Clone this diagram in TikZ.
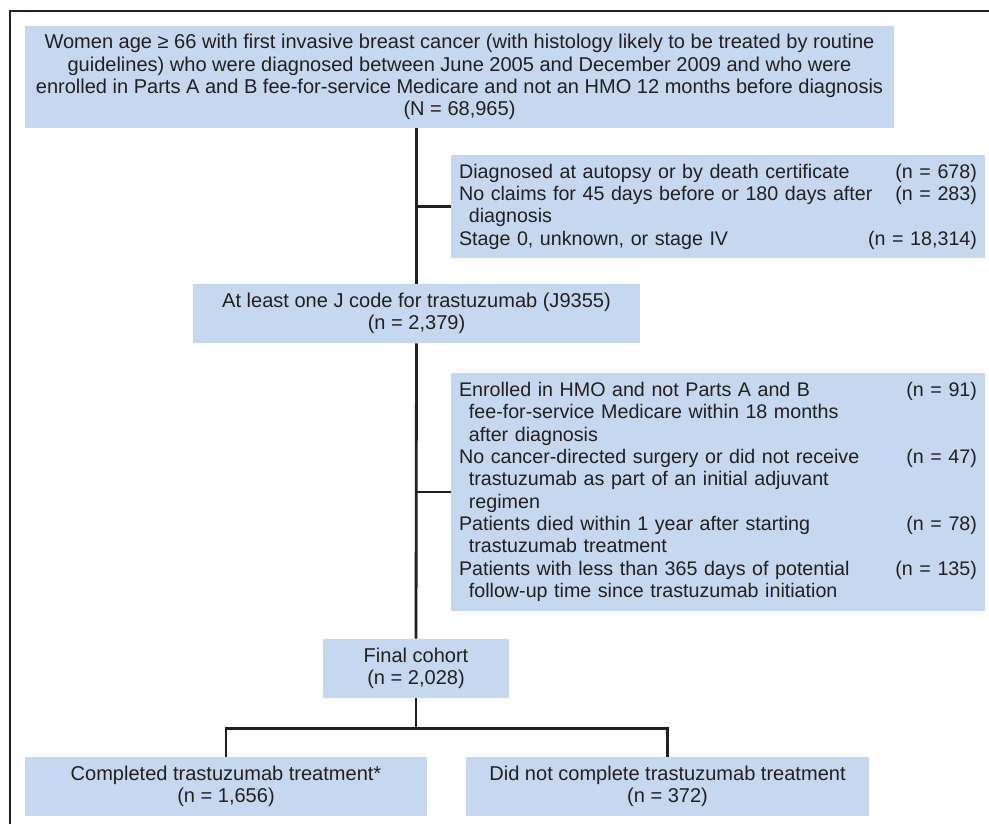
\documentclass[tikz,border=0pt]{standalone}
\usepackage{fontspec}
\setmainfont{Liberation Sans}
\usepackage{tikz}
\usetikzlibrary{positioning}
\definecolor{boxblue}{RGB}{198,216,239}
\definecolor{inkgray}{RGB}{35,31,32}

\begin{document}
\begin{tikzpicture}[x=0.02cm, y=-0.02cm,
		box/.style={fill=boxblue, text=inkgray, inner sep=0pt, font=\fontsize{11.4}{12.7}\selectfont},
		cbox/.style={box, align=center},
		lbox/.style={box, align=left, text width=10.36cm, minimum width=10.68cm, font=\fontsize{11.2}{12.7}\selectfont},
		conn/.style={draw=inkgray, line width=1.6pt}]
			\useasboundingbox (0,0) rectangle (989,824);
			\draw[inkgray, line width=1pt] (10,824) -- (10,11) -- (989,11);
			\node[cbox, minimum width=17.38cm, minimum height=2.04cm] (pop) at (459.5,77) {Women age ≥ 66 with first invasive breast cancer (with histology likely to be treated by routine\\guidelines) who were diagnosed between June 2005 and December 2009 and who were\\enrolled in Parts A and B fee-for-service Medicare and not an HMO 12 months before diagnosis\\(N = 68,965)};
			\node[lbox, minimum height=2.06cm] (excl1) at (718,206.5) {Diagnosed at autopsy or by death certificate\hfill(n = 678)\\No claims for 45 days before or 180 days after\hfill(n = 283)\\\hspace*{0.5em}diagnosis\\Stage 0, unknown, or stage IV\hfill(n = 18,314)};
			\node[cbox, minimum width=8.94cm, minimum height=1.18cm] (jcode) at (416.5,313.5) {At least one J code for trastuzumab (J9355)\\(n = 2,379)};
			\node[lbox, minimum height=4.76cm] (excl2) at (718,492) {Enrolled in HMO and not Parts A and B\hfill(n = 91)\\\hspace*{0.5em}fee-for-service Medicare within 18 months\\\hspace*{0.5em}after diagnosis\\No cancer-directed surgery or did not receive\hfill(n = 47)\\\hspace*{0.5em}trastuzumab as part of an initial adjuvant\\\hspace*{0.5em}regimen\\Patients died within 1 year after starting\hfill(n = 78)\\\hspace*{0.5em}trastuzumab treatment\\Patients with less than 365 days of potential\hfill(n = 135)\\\hspace*{0.5em}follow-up time since trastuzumab initiation};
			\node[cbox, minimum width=3.72cm, minimum height=1.18cm] (final) at (416,668.5) {Final cohort\\(n = 2,028)};
			\node[cbox, minimum width=8.04cm, minimum height=1.18cm] (done) at (226,786.5) {Completed trastuzumab treatment*\\(n = 1,656)};
			\node[cbox, minimum width=8.06cm, minimum height=1.18cm] (notdone) at (667.5,786.5) {Did not complete trastuzumab treatment\\(n = 372)};
			\coordinate (split) at (416,728.5);
			\draw[conn] (jcode.north |- pop.south) -- (jcode.north);
			\draw[conn] (excl1.west) -- (excl1.west -| jcode.north);
			\draw[conn] (jcode.south) -- (final.north);
			\draw[conn] (excl2.west) -- (excl2.west -| jcode.south);
			\draw[conn] (final.south) -- (split);
			\draw[conn] (done.north) |- (split) -| (notdone.north);
\end{tikzpicture}
\end{document}
